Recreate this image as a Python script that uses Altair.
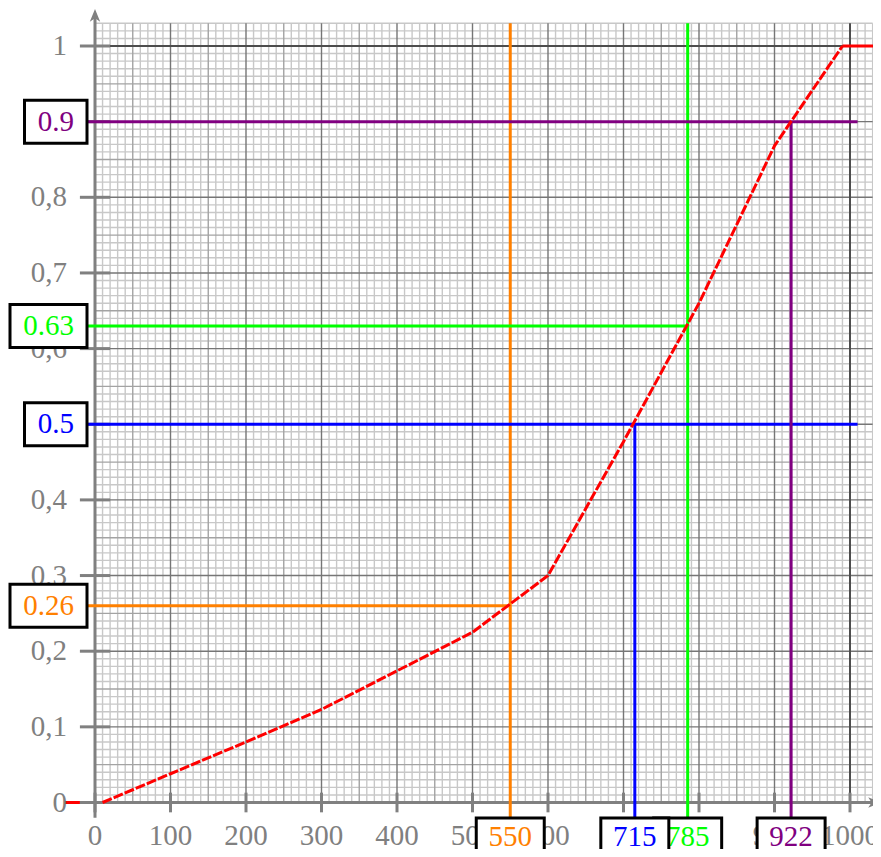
import altair as alt
import pandas as pd
import numpy as np

# ---------------- data ----------------
curve_x = [10, 100, 200, 300, 500, 600, 700, 800, 900, 990]
curve_y = [0.0, 0.038, 0.080, 0.123, 0.225, 0.300, 0.477, 0.660, 0.868, 1.0]
left_x = [-40, 10]
left_y = [0.0, 0.0]
right_x = [990, 1040]
right_y = [1.0, 1.0]

ref_x_vals = [550, 785, 715, 922]
ref_y_vals = [0.26, 0.63, 0.5, 0.9]
ref_y_text = ["0.26", "0.63", "0.5", "0.9"]
ref_x_text = ["550", "785", "715", "922"]
ref_colors = ["#ff8000", "#00ff00", "#0000ff", "#800080"]
h_end = [550, 785, 1010, 1010]       # where horizontal guides stop (x)
v_top = [1.03, 1.03, 0.5, 0.9]       # where vertical guides stop (y)

x_ticks = [0, 100, 200, 300, 400, 500, 600, 700, 800, 900, 1000]
x_tick_labels = ["0", "100", "200", "300", "400", "500", "600", "700", "800", "900", "1000"]
y_ticks = [0, 0.1, 0.2, 0.3, 0.4, 0.5, 0.6, 0.7, 0.8, 0.9, 1.0]
y_tick_labels = ["0", "0,1", "0,2", "0,3", "0,4", "0,5", "0,6", "0,7", "0,8", "0,9", "1"]

GRID_X_MAX = 1030
GRID_Y_MAX = 1.03

# ---------------- layout ----------------
W, H = 865, 841
X0PX, XS = 95, 0.755      # page px of x=0, px per unit
Y0PX, YS = 802.5, 756.5   # page px of y=0, px per unit
xdom = [(8 - X0PX) / XS, (8 + W - X0PX) / XS]
ydom = [(Y0PX - (8 + H)) / YS, (Y0PX - 8) / YS]
xs = alt.Scale(domain=xdom, nice=False, zero=False)
ys = alt.Scale(domain=ydom, nice=False, zero=False)
FONT = "Liberation Serif"
FS = 29
GRAY = "#808080"


def X(f):
    return alt.X(f, type="quantitative", scale=xs, axis=None)


def Y(f):
    return alt.Y(f, type="quantitative", scale=ys, axis=None)


def XD(v):
    return alt.X(datum=v, type="quantitative", scale=xs, axis=None)


def YD(v):
    return alt.Y(datum=v, type="quantitative", scale=ys, axis=None)


one = pd.DataFrame({"a": [0]})
layers = []

# ---------------- grid ----------------
gx = np.arange(0, GRID_X_MAX + 1, 10)
gy = np.round(np.arange(0, 104) / 100, 2)


def grid_layer(xv, yv, color, width):
    v = pd.DataFrame({"x": xv, "y0": 0.0, "y1": GRID_Y_MAX})
    h = pd.DataFrame({"y": yv, "x0": 0.0, "x1": GRID_X_MAX})
    lv = alt.Chart(v).mark_rule(color=color, strokeWidth=width).encode(
        x=X("x"), y=Y("y0"), y2="y1")
    lh = alt.Chart(h).mark_rule(color=color, strokeWidth=width).encode(
        y=Y("y"), x=X("x0"), x2="x1")
    return [lv, lh]


xi = gx.astype(int)
yi = np.round(gy * 100).astype(int)
layers += grid_layer(gx[(xi % 50) != 0], gy[(yi % 5) != 0], "#c8c8c8", 1.4)
layers += grid_layer(gx[((xi % 50) == 0) & ((xi % 100) != 0)],
                     gy[((yi % 5) == 0) & ((yi % 10) != 0)], "#a3a3a3", 1.4)
layers += grid_layer(gx[((xi % 100) == 0) & (xi != 1000)],
                     gy[((yi % 10) == 0) & (yi != 100)], "#767676", 1.4)
layers += grid_layer(gx[xi == 1000], gy[yi == 100], "#4d4d4d", 2)

# ---------------- red flat parts (under axes) ----------------
for ex, ey in [(left_x, left_y), (right_x, right_y)]:
    layers.append(alt.Chart(pd.DataFrame({"x": ex, "y": ey})).mark_line(
        color="#ff0000", strokeWidth=3).encode(x=X("x"), y=Y("y")))

# ---------------- axes ----------------
layers.append(alt.Chart(one).mark_rule(color=GRAY, strokeWidth=3).encode(
    x=XD(-20), x2=alt.datum(1032), y=YD(0)))
layers.append(alt.Chart(one).mark_rule(color=GRAY, strokeWidth=3).encode(
    y=YD(-0.02), y2=alt.datum(1.04), x=XD(0)))
ARROW = "M0,-1 L0.7,0.7 L0,0.25 L-0.7,0.7 Z"
layers.append(alt.Chart(one).mark_point(
    shape=ARROW, size=220, filled=True, color=GRAY, opacity=1, strokeWidth=0).encode(
    x=XD(0), y=YD(1.039)))
layers.append(alt.Chart(one).mark_point(
    shape=ARROW, size=220, filled=True, color=GRAY, opacity=1, strokeWidth=0, angle=90).encode(
    x=XD(1031), y=YD(0)))

# ticks
xt = pd.DataFrame({"x": x_ticks, "lab": x_tick_labels})
yt = pd.DataFrame({"y": y_ticks, "lab": y_tick_labels})
layers.append(alt.Chart(xt).mark_rule(color=GRAY, strokeWidth=3).encode(
    x=X("x"), y=YD(-0.013), y2=alt.datum(0.013)))
layers.append(alt.Chart(yt).mark_rule(color=GRAY, strokeWidth=3).encode(
    y=Y("y"), x=XD(-20), x2=alt.datum(20)))

# ---------------- coloured guides ----------------
for i in range(4):
    c = ref_colors[i]
    hdf = pd.DataFrame({"y": [ref_y_vals[i]], "x0": [-20], "x1": [h_end[i]]})
    vdf = pd.DataFrame({"x": [ref_x_vals[i]], "y0": [-0.03], "y1": [v_top[i]]})
    layers.append(alt.Chart(hdf).mark_rule(color=c, strokeWidth=3).encode(
        y=Y("y"), x=X("x0"), x2="x1"))
    layers.append(alt.Chart(vdf).mark_rule(color=c, strokeWidth=3).encode(
        x=X("x"), y=Y("y0"), y2="y1"))

# ---------------- curve ----------------
layers.append(alt.Chart(pd.DataFrame({"x": curve_x, "y": curve_y})).mark_line(
    color="#ff0000", strokeWidth=3, strokeDash=[10, 2]).encode(x=X("x"), y=Y("y")))

# ---------------- tick labels ----------------
layers.append(alt.Chart(xt).mark_text(font=FONT, fontSize=FS, color=GRAY, align="center",
                                      baseline="middle", dy=33).encode(
    x=X("x"), y=YD(0), text="lab:N"))
layers.append(alt.Chart(yt).mark_text(font=FONT, fontSize=FS, color=GRAY, align="right",
                                      baseline="middle", dx=-28).encode(
    y=Y("y"), x=XD(0), text="lab:N"))


# ---------------- boxed labels ----------------
def text_w(t):
    return 14.5 * sum(ch.isdigit() for ch in t) + 7 * t.count(".")


for i in range(4):
    c = ref_colors[i]
    t = ref_y_text[i]
    w = text_w(t) + 26.5
    base = alt.Chart(pd.DataFrame({"y": [ref_y_vals[i]], "t": [t]}))
    layers.append(base.mark_rect(width=w, height=43, fill="white", stroke="black",
                                 strokeWidth=3, xOffset=-8 - w / 2).encode(
        y=Y("y"), x=XD(0)))
    layers.append(base.mark_text(font=FONT, fontSize=FS, color=c, align="center",
                                 baseline="middle", xOffset=-8 - w / 2).encode(
        y=Y("y"), x=XD(0), text="t:N"))

for i in range(4):
    c = ref_colors[i]
    t = ref_x_text[i]
    w = text_w(t) + 24.5
    base = alt.Chart(pd.DataFrame({"x": [ref_x_vals[i]], "t": [t]}))
    layers.append(base.mark_rect(width=w, height=43, fill="white", stroke="black",
                                 strokeWidth=3, yOffset=37).encode(
        x=X("x"), y=YD(0)))
    layers.append(base.mark_text(font=FONT, fontSize=FS, color=c, align="center",
                                 baseline="middle", yOffset=34).encode(
        x=X("x"), y=YD(0), text="t:N"))

chart = alt.layer(*layers).properties(
    width=W, height=H, autosize=alt.AutoSizeParams(type="none"),
    padding=0, background="white"
).configure_view(stroke=None)

chart.save("out.html", embed_options={"renderer": "svg", "actions": False})
